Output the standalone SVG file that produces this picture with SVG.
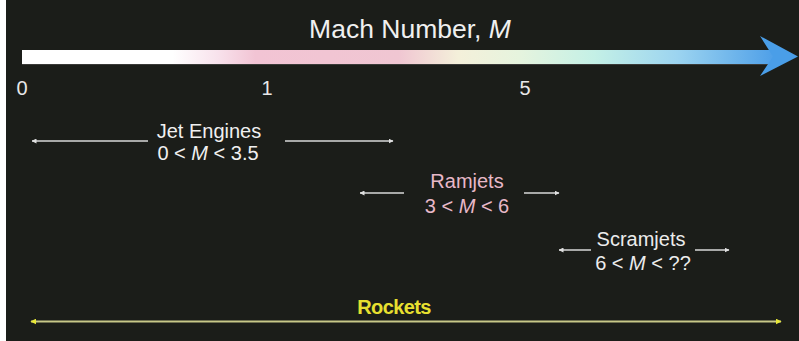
<svg xmlns="http://www.w3.org/2000/svg" width="799" height="341" viewBox="0 0 799 341">
<defs>
<linearGradient id="bar" x1="22" y1="0" x2="775" y2="0" gradientUnits="userSpaceOnUse">
<stop offset="0" stop-color="#ffffff"/>
<stop offset="0.2" stop-color="#ffffff"/>
<stop offset="0.26" stop-color="#f8e2ec"/>
<stop offset="0.31" stop-color="#f2c4d4"/>
<stop offset="0.5" stop-color="#f0c6d2"/>
<stop offset="0.58" stop-color="#f4f0da"/>
<stop offset="0.66" stop-color="#e6f4de"/>
<stop offset="0.76" stop-color="#c4f0e6"/>
<stop offset="0.87" stop-color="#9cd4f0"/>
<stop offset="1" stop-color="#4e9fe8"/>
</linearGradient>
<marker id="ah" viewBox="0 0 10 10" refX="9" refY="5" markerWidth="5" markerHeight="5" orient="auto-start-reverse" markerUnits="userSpaceOnUse">
<path d="M0,0 L10,5 L0,10 z" fill="#e0e0e0"/>
</marker>
<marker id="ahy" viewBox="0 0 10 10" refX="9" refY="5" markerWidth="6" markerHeight="6" orient="auto-start-reverse" markerUnits="userSpaceOnUse">
<path d="M0,0 L10,5 L0,10 z" fill="#e8e838"/>
</marker>
</defs>
<style>
text{font-family:"Liberation Sans",Arial,sans-serif;}
.lbl{font-size:20px;text-anchor:middle;}
.tick{font-size:20px;fill:#e8e8e8;text-anchor:middle;}
.arr{stroke:#d8d8d8;stroke-width:1.5;fill:none;marker-end:url(#ah);}
</style>
<rect x="0" y="0" width="799" height="341" fill="#ffffff"/>
<rect x="6" y="0" width="793" height="341" fill="#1b1d19"/>
<g id="axis">
<rect x="22" y="50" width="753" height="14" fill="url(#bar)"/>
<line x1="22" y1="64.5" x2="775" y2="64.5" stroke="#3a3a38" stroke-width="1"/>
<path d="M760,36 L798,56.5 L760,76 L773,56.5 z" fill="#4a9ee8"/>
<text x="410" y="38" font-size="26.5" fill="#f0f0f0" text-anchor="middle">Mach Number, <tspan font-style="italic">M</tspan></text>
<text class="tick" x="22" y="95">0</text>
<text class="tick" x="267" y="95">1</text>
<text class="tick" x="525" y="95">5</text>
</g>
<g id="connectors">
<line class="arr" x1="148" y1="141" x2="32" y2="141"/>
<line class="arr" x1="285" y1="141" x2="393" y2="141"/>
<line class="arr" x1="404" y1="193" x2="360" y2="193"/>
<line class="arr" x1="524" y1="193" x2="559" y2="193"/>
<line class="arr" x1="591" y1="250" x2="559" y2="250"/>
<line class="arr" x1="695" y1="250" x2="729" y2="250"/>
<line x1="31" y1="321.5" x2="781" y2="321.5" stroke="#c8c888" stroke-width="2" marker-start="url(#ahy)" marker-end="url(#ahy)"/>
</g>
<g id="jet">
<text class="lbl" x="209" y="137.5" fill="#f0f0f0">Jet Engines</text>
<text class="lbl" x="208" y="160" fill="#f0f0f0">0 &lt; <tspan font-style="italic">M</tspan> &lt; 3.5</text>
</g>
<g id="ramjets">
<text class="lbl" x="467" y="188" fill="#e8b8c8">Ramjets</text>
<text class="lbl" x="467" y="212.5" fill="#e8b8c8">3 &lt; <tspan font-style="italic">M</tspan> &lt; 6</text>
</g>
<g id="scramjets">
<text class="lbl" x="641" y="246" fill="#ececec">Scramjets</text>
<text class="lbl" x="643" y="270" fill="#ececec">6 &lt; <tspan font-style="italic">M</tspan> &lt; ??</text>
</g>
<g id="rockets">
<text x="394" y="313.5" font-size="20" font-weight="bold" fill="#e8e030" text-anchor="middle" letter-spacing="-0.6">Rockets</text>
</g>
</svg>
